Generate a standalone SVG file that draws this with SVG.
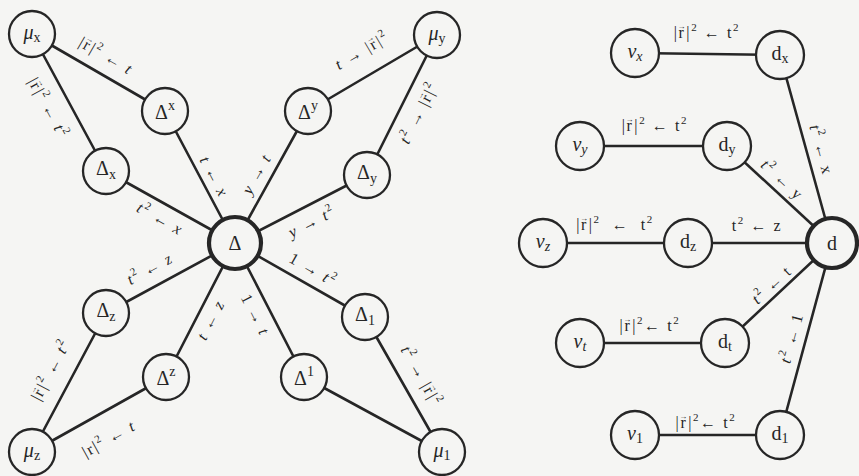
<svg xmlns="http://www.w3.org/2000/svg" width="859" height="476" viewBox="0 0 859 476">
  <style>
    .edge { stroke: #262626; stroke-width: 2.6; fill: none; stroke-linecap: round; }
    .node { fill: #f5f5f3; stroke: #262626; stroke-width: 2.3; }
    .hub { stroke-width: 4.2; }
    .lbl { font-family: "Liberation Serif", "DejaVu Serif", serif; font-size: 20px; fill: #262626; text-anchor: middle; }
    .sub { font-size: 14px; }
    .el { font-family: "Liberation Serif", "DejaVu Serif", serif; font-size: 16px; letter-spacing: 1.6px; fill: #262626; text-anchor: middle; }
    .it { font-style: italic; }
    .va { font-size: 8px; letter-spacing: 0; }
    .sp { font-size: 11px; }
  </style>
  <rect width="859" height="476" fill="#f5f5f3"/>

  <g id="connectors">
    <!-- left star -->
    <line class="edge" x1="235" y1="243" x2="165" y2="111"/>
    <line class="edge" x1="235" y1="243" x2="106" y2="171"/>
    <line class="edge" x1="235" y1="243" x2="308" y2="111"/>
    <line class="edge" x1="235" y1="243" x2="367" y2="175"/>
    <line class="edge" x1="235" y1="243" x2="106" y2="313"/>
    <line class="edge" x1="235" y1="243" x2="166" y2="377"/>
    <line class="edge" x1="235" y1="243" x2="365" y2="317"/>
    <line class="edge" x1="235" y1="243" x2="304" y2="377"/>
    <line class="edge" x1="32" y1="34" x2="165" y2="111"/>
    <line class="edge" x1="32" y1="34" x2="106" y2="171"/>
    <line class="edge" x1="437" y1="35" x2="308" y2="111"/>
    <line class="edge" x1="437" y1="35" x2="367" y2="175"/>
    <line class="edge" x1="32" y1="452" x2="106" y2="313"/>
    <line class="edge" x1="32" y1="452" x2="166" y2="377"/>
    <line class="edge" x1="442" y1="452" x2="365" y2="317"/>
    <line class="edge" x1="442" y1="452" x2="304" y2="377"/>
    <!-- right fan -->
    <line class="edge" x1="635" y1="53" x2="780" y2="55"/>
    <line class="edge" x1="580" y1="146" x2="727" y2="146"/>
    <line class="edge" x1="543" y1="243" x2="688" y2="243"/>
    <line class="edge" x1="688" y1="243" x2="832" y2="243"/>
    <line class="edge" x1="580" y1="343" x2="725" y2="343"/>
    <line class="edge" x1="635" y1="435" x2="780" y2="435"/>
    <line class="edge" x1="780" y1="55" x2="832" y2="243"/>
    <line class="edge" x1="727" y1="146" x2="832" y2="243"/>
    <line class="edge" x1="725" y1="343" x2="832" y2="243"/>
    <line class="edge" x1="780" y1="435" x2="832" y2="243"/>
  </g>

  <g id="edge-labels">
    <text class="el" transform="translate(106,56) rotate(30)" y="5">|r<tspan class="va" dx="-8" dy="-9">→</tspan><tspan dx="0.8" dy="9">|</tspan><tspan class="sp" dy="-7">2</tspan><tspan dy="7"> ← </tspan><tspan class="it">t</tspan></text>
    <text class="el" transform="translate(48,108) rotate(61.6)" y="5">|r<tspan class="va" dx="-8" dy="-9">→</tspan><tspan dx="0.8" dy="9">|</tspan><tspan class="sp" dy="-7">2</tspan><tspan dy="7"> ← </tspan><tspan class="it">t</tspan><tspan class="sp" dy="-7">2</tspan></text>
    <text class="el" transform="translate(160,219) rotate(29)" y="5"><tspan class="it">t</tspan><tspan class="sp" dy="-7">2</tspan><tspan dy="7"> ← </tspan><tspan class="it">x</tspan></text>
    <text class="el" transform="translate(214,177) rotate(62)" y="5"><tspan class="it">t</tspan> ← <tspan class="it">x</tspan></text>
    <text class="el" transform="translate(257,174) rotate(-61)" y="5"><tspan class="it">y</tspan> → <tspan class="it">t</tspan></text>
    <text class="el" transform="translate(362,51) rotate(-30.5)" y="5"><tspan class="it">t</tspan> → |r<tspan class="va" dx="-8" dy="-9">→</tspan><tspan dx="0.8" dy="9">|</tspan><tspan class="sp" dy="-7">2</tspan></text>
    <text class="el" transform="translate(419,113) rotate(-63.4)" y="5"><tspan class="it">t</tspan><tspan class="sp" dy="-7">2</tspan><tspan dy="7"> → </tspan>|r<tspan class="va" dx="-8" dy="-9">→</tspan><tspan dx="0.8" dy="9">|</tspan><tspan class="sp" dy="-7">2</tspan></text>
    <text class="el" transform="translate(312,222) rotate(-27)" y="5"><tspan class="it">y</tspan> → <tspan class="it">t</tspan><tspan class="sp" dy="-7">2</tspan></text>
    <text class="el" transform="translate(150,269) rotate(-28.5)" y="5"><tspan class="it">t</tspan><tspan class="sp" dy="-7">2</tspan><tspan dy="7"> ← </tspan><tspan class="it">z</tspan></text>
    <text class="el" transform="translate(51,370) rotate(-62)" y="5">|r<tspan class="va" dx="-8" dy="-9">→</tspan><tspan dx="0.8" dy="9">|</tspan><tspan class="sp" dy="-7">2</tspan><tspan dy="7"> ← </tspan><tspan class="it">t</tspan><tspan class="sp" dy="-7">2</tspan></text>
    <text class="el" transform="translate(109,439) rotate(-29)" y="5">|r|<tspan class="sp" dy="-7">2</tspan><tspan dy="7"> ← </tspan><tspan class="it">t</tspan></text>
    <text class="el" transform="translate(211,320) rotate(-62.8)" y="5"><tspan class="it">t</tspan> ← <tspan class="it">z</tspan></text>
    <text class="el" transform="translate(313,270) rotate(29.6)" y="5">1 → <tspan class="it">t</tspan><tspan class="sp" dy="-7">2</tspan></text>
    <text class="el" transform="translate(255,315) rotate(62.8)" y="5">1 → <tspan class="it">t</tspan></text>
    <text class="el" transform="translate(421,376) rotate(60.3)" y="5"><tspan class="it">t</tspan><tspan class="sp" dy="-7">2</tspan><tspan dy="7"> → </tspan>|r<tspan class="va" dx="-8" dy="-9">→</tspan><tspan dx="0.8" dy="9">|</tspan><tspan class="sp" dy="-7">2</tspan></text>

    <text class="el" x="707" y="38">|r<tspan class="va" dx="-8" dy="-9">→</tspan><tspan dx="0.8" dy="9">|</tspan><tspan class="sp" dy="-7">2</tspan><tspan dy="7"> ← t</tspan><tspan class="sp" dy="-7">2</tspan></text>
    <text class="el" x="655" y="131">|r<tspan class="va" dx="-8" dy="-9">→</tspan><tspan dx="0.8" dy="9">|</tspan><tspan class="sp" dy="-7">2</tspan><tspan dy="7"> ← t</tspan><tspan class="sp" dy="-7">2</tspan></text>
    <text class="el" x="615" y="230" xml:space="preserve">|r<tspan class="va" dx="-8" dy="-9">→</tspan><tspan dx="0.8" dy="9">|</tspan><tspan class="sp" dy="-7">2</tspan><tspan dy="7">  ←  t</tspan><tspan class="sp" dy="-7">2</tspan></text>
    <text class="el" x="757" y="231">t<tspan class="sp" dy="-7">2</tspan><tspan dy="7"> ← z</tspan></text>
    <text class="el" x="650" y="331">|r<tspan class="va" dx="-8" dy="-9">→</tspan><tspan dx="0.8" dy="9">|</tspan><tspan class="sp" dy="-7">2</tspan><tspan dy="7">← t</tspan><tspan class="sp" dy="-7">2</tspan></text>
    <text class="el" x="706" y="428">|r<tspan class="va" dx="-8" dy="-9">→</tspan><tspan dx="0.8" dy="9">|</tspan><tspan class="sp" dy="-7">2</tspan><tspan dy="7">← t</tspan><tspan class="sp" dy="-7">2</tspan></text>
    <text class="el" transform="translate(821,150) rotate(74.5)" y="5"><tspan class="it">t</tspan><tspan class="sp" dy="-7">2</tspan><tspan dy="7"> ← x</tspan></text>
    <text class="el" transform="translate(782,180) rotate(42.7)" y="5"><tspan class="it">t</tspan><tspan class="sp" dy="-7">2</tspan><tspan dy="7"> ← y</tspan></text>
    <text class="el" transform="translate(772,285) rotate(-43)" y="5"><tspan class="it">t</tspan><tspan class="sp" dy="-7">2</tspan><tspan dy="7"> ← t</tspan></text>
    <text class="el" transform="translate(792,338) rotate(-74.8)" y="5"><tspan class="it">t</tspan><tspan class="sp" dy="-7">2</tspan><tspan dy="7"> ← 1</tspan></text>
  </g>

  <!-- left star nodes -->
  <g id="Delta"><circle class="node hub" cx="235" cy="243" r="26"/><text class="lbl" x="235" y="250">Δ</text></g>
  <g id="mu-x"><circle class="node" cx="32" cy="34" r="23"/><text class="lbl" x="32" y="39"><tspan class="it">μ</tspan><tspan class="sub" dy="3">x</tspan></text></g>
  <g id="mu-y"><circle class="node" cx="437" cy="35" r="23"/><text class="lbl" x="437" y="40"><tspan class="it">μ</tspan><tspan class="sub" dy="3">y</tspan></text></g>
  <g id="mu-z"><circle class="node" cx="32" cy="452" r="23"/><text class="lbl" x="32" y="457"><tspan class="it">μ</tspan><tspan class="sub" dy="3">z</tspan></text></g>
  <g id="mu-1"><circle class="node" cx="442" cy="452" r="23"/><text class="lbl" x="442" y="457"><tspan class="it">μ</tspan><tspan class="sub" dy="3">1</tspan></text></g>
  <g id="Delta-sup-x"><circle class="node" cx="165" cy="111" r="23"/><text class="lbl" x="165" y="119">Δ<tspan class="sub" dy="-9">x</tspan></text></g>
  <g id="Delta-sub-x"><circle class="node" cx="106" cy="171" r="23"/><text class="lbl" x="106" y="175">Δ<tspan class="sub" dy="4">x</tspan></text></g>
  <g id="Delta-sup-y"><circle class="node" cx="308" cy="111" r="23"/><text class="lbl" x="308" y="119">Δ<tspan class="sub" dy="-9">y</tspan></text></g>
  <g id="Delta-sub-y"><circle class="node" cx="367" cy="175" r="23"/><text class="lbl" x="367" y="179">Δ<tspan class="sub" dy="4">y</tspan></text></g>
  <g id="Delta-sub-z"><circle class="node" cx="106" cy="313" r="23"/><text class="lbl" x="106" y="317">Δ<tspan class="sub" dy="4">z</tspan></text></g>
  <g id="Delta-sup-z"><circle class="node" cx="166" cy="377" r="23"/><text class="lbl" x="166" y="385">Δ<tspan class="sub" dy="-9">z</tspan></text></g>
  <g id="Delta-sub-1"><circle class="node" cx="365" cy="317" r="23"/><text class="lbl" x="365" y="321">Δ<tspan class="sub" dy="4">1</tspan></text></g>
  <g id="Delta-sup-1"><circle class="node" cx="304" cy="377" r="23"/><text class="lbl" x="304" y="385">Δ<tspan class="sub" dy="-9">1</tspan></text></g>

  <!-- right fan nodes -->
  <g id="d"><circle class="node hub" cx="832" cy="243" r="25"/><text class="lbl" x="832" y="250">d</text></g>
  <g id="nu-x"><circle class="node" cx="635" cy="53" r="24"/><text class="lbl" x="635" y="58"><tspan class="it">ν</tspan><tspan class="sub it" dy="3">x</tspan></text></g>
  <g id="d-x"><circle class="node" cx="780" cy="55" r="24"/><text class="lbl" x="780" y="60">d<tspan class="sub" dy="3">x</tspan></text></g>
  <g id="nu-y"><circle class="node" cx="580" cy="146" r="24"/><text class="lbl" x="580" y="151"><tspan class="it">ν</tspan><tspan class="sub it" dy="3">y</tspan></text></g>
  <g id="d-y"><circle class="node" cx="727" cy="146" r="24"/><text class="lbl" x="727" y="151">d<tspan class="sub" dy="3">y</tspan></text></g>
  <g id="nu-z"><circle class="node" cx="543" cy="243" r="24"/><text class="lbl" x="543" y="248"><tspan class="it">ν</tspan><tspan class="sub it" dy="3">z</tspan></text></g>
  <g id="d-z"><circle class="node" cx="688" cy="243" r="24"/><text class="lbl" x="688" y="248">d<tspan class="sub" dy="3">z</tspan></text></g>
  <g id="nu-t"><circle class="node" cx="580" cy="343" r="24"/><text class="lbl" x="580" y="348"><tspan class="it">ν</tspan><tspan class="sub it" dy="3">t</tspan></text></g>
  <g id="d-t"><circle class="node" cx="725" cy="343" r="24"/><text class="lbl" x="725" y="348">d<tspan class="sub" dy="3">t</tspan></text></g>
  <g id="nu-1"><circle class="node" cx="635" cy="435" r="24"/><text class="lbl" x="635" y="440"><tspan class="it">ν</tspan><tspan class="sub" dy="3">1</tspan></text></g>
  <g id="d-1"><circle class="node" cx="780" cy="435" r="24"/><text class="lbl" x="780" y="440">d<tspan class="sub" dy="3">1</tspan></text></g>
</svg>
